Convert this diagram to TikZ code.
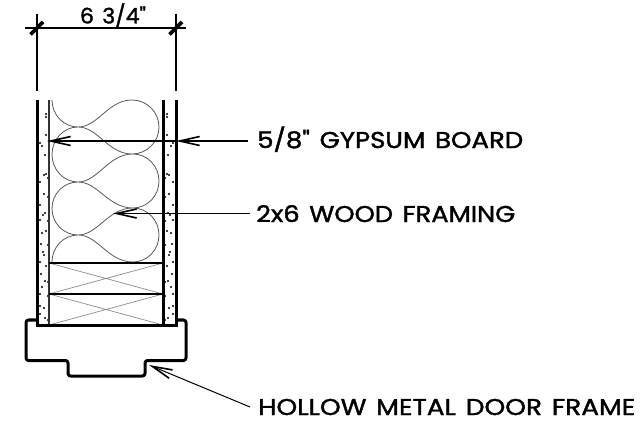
\documentclass[tikz,border=0pt]{standalone}
\usepackage{fontspec}
\setmainfont{Poppins}[Ligatures=TeXOff,FakeBold=1.5,WordSpace=1.4]
\usetikzlibrary{arrows.meta}
\tikzset{
  thickwall/.style={line width=3pt,black},
  stud/.style={line width=1.6pt,black!80},
  blockline/.style={line width=2.4pt,black},
  batt/.style={line width=0.8pt,black!65},
  cross/.style={line width=0.7pt,black!45},
  dimline/.style={line width=1.5pt,black},
  tick/.style={line width=3.6pt,black},
  leader/.style={line width=1.6pt,black,-{Straight Barb[length=20pt,width=9pt,line width=1.6pt]}},
  leaderthin/.style={line width=1pt,black,-{Straight Barb[length=20pt,width=9pt,line width=1.6pt]}},
  lbl/.style={inner sep=0pt,anchor=west},
}
\newcommand{\fittext}[3]{\resizebox{#1pt}{#2pt}{\raisebox{0pt}[0.7em][0pt]{#3}}}
\begin{document}
\begin{tikzpicture}[x=1pt,y=-1pt]
\useasboundingbox (0,0) rectangle (643,422);
% dimension
\coordinate (dl) at (25,28); \coordinate (dr) at (186,28);
\draw[dimline] (dl) -- (dr);
\draw[dimline] (37,14) -- (37,91);
\draw[dimline] (176,14) -- (176,91);
\draw[tick] (30.5,34.5) -- (43,22);
\draw[tick] (169.5,34.5) -- (182,22);
\node[lbl,anchor=center] (dimtext) at (113,16) {\fittext{66}{15}{6 3/4"}};
% dots
\foreach \x/\y in {46/114,46/117,46/135,40/143,42/146,45/155,44/175,46/174,48/178,40/182,44/194,48/197,40/205,45/213,40/220,43/215,48/221,42/233,46/231,41/244,48/245,43/252,40/262,46/266,44/255,41/274,45/281,48/282,40/294,48/296,40/306,44/308,40/314,48/320,45/318,42/287}{
  \fill (\x,\y) circle (1.05);
  \pgfmathsetmacro{\mx}{213-\x}
  \fill (\mx,\y) circle (1.05);
}
% batt
\draw[batt] (52,100) arc[start angle=180,end angle=90,x radius=26,y radius=27]
  .. controls (98,127) and (108,100) .. (132,100)
  arc[start angle=90,end angle=-90,x radius=27,y radius=-27]
  .. controls (108,154) and (98,127) .. (78,127)
  arc[start angle=90,end angle=270,x radius=26,y radius=-27.5]
  .. controls (98,182) and (108,154) .. (133,154)
  arc[start angle=90,end angle=-90,x radius=26,y radius=-27]
  .. controls (108,208) and (98,182) .. (78,182)
  arc[start angle=90,end angle=270,x radius=26,y radius=-26.5]
  .. controls (98,235) and (108,208) .. (133,208)
  arc[start angle=90,end angle=-90,x radius=26,y radius=-27]
  .. controls (108,262) and (98,235) .. (78,235)
  arc[start angle=90,end angle=180,x radius=26,y radius=-27];
% crosses
\draw[cross] (49,263) -- (163,294) (49,294) -- (163,263) (49,294) -- (163,325) (49,325) -- (163,294);
% walls
\draw[thickwall] (37,100) -- (37,325);
\draw[stud] (49,100) -- (49,325);
\draw[thickwall] (163,100) -- (163,325);
\draw[thickwall] (176,100) -- (176,325);
\draw[blockline] (49,263) -- (163,263);
\draw[blockline] (49,294) -- (163,294);
% frame
\draw[line width=3pt,line join=round,rounded corners=2.5pt] (37,320) -- (26,320) -- (26,360.5) -- (68,360.5) -- (68,376) -- (145,376) -- (145,360.5) -- (186,360.5) -- (186,320) -- (176,320);
\draw[line width=3pt] (35.5,325) -- (177.5,325);
% labels
\node[lbl] (gyp) at (257,140) {\fittext{266}{16}{5/8" GYPSUM BOARD}};
\node[lbl] (wood) at (256,214) {\fittext{259}{16}{2x6 WOOD FRAMING}};
\node[lbl] (door) at (258,407) {\fittext{377}{16}{HOLLOW METAL DOOR FRAME}};
% leaders
\coordinate (ta) at (47,141); \coordinate (tb) at (176,141);
\coordinate (tc) at (113,213.5); \coordinate (td) at (149,365);
\coordinate (ga) at (248,141); \coordinate (wa) at (250,213.5); \coordinate (da) at (250,407);
\draw[leader] (ga) -- (tb);
\draw[leader] (tb) -- (ta);
\draw[leaderthin] (wa) -- (tc);
\draw[leaderthin] (da) -- (td);
\end{tikzpicture}
\end{document}
